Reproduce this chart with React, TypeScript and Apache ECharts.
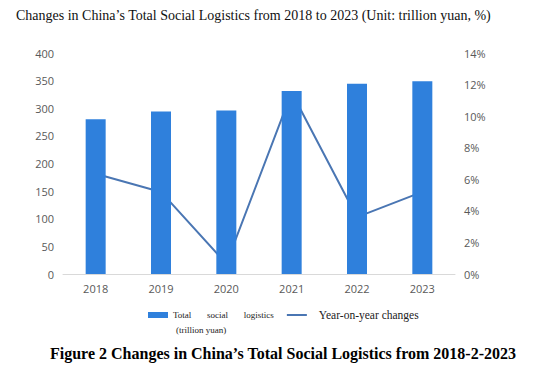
import React, { useEffect, useRef } from "react";
import * as echarts from "echarts";

const years = ["2018", "2019", "2020", "2021", "2022", "2023"];
const totalLogistics = [280, 294, 296, 331, 344.5, 349];
const yoyChange = [6.35, 5.2, 0.65, 11.5, 3.6, 5.2];
const titleText = "Changes in China\u2019s Total Social Logistics from 2018 to 2023 (Unit: trillion yuan, %)";
const captionText = "Figure 2 Changes in China\u2019s Total Social Logistics from 2018-2-2023";
const barName = "Total       social       logistics";
const lineName = "Year-on-year changes";

const SERIF = "'Liberation Serif', 'Times New Roman', serif";

export default function App() {
  const ref = useRef<HTMLDivElement>(null);
  useEffect(() => {
    if (!ref.current) return;
    const chart = echarts.init(ref.current, null, { renderer: "svg" });
    const axisLabel = { color: "#595959", fontSize: 11, fontFamily: "Open Sans" };
    chart.setOption({
      animation: false,
      backgroundColor: "#ffffff",
      title: [
        {
          text: titleText,
          left: 11,
          top: 3,
          textStyle: { fontFamily: SERIF, fontSize: 14, fontWeight: "normal", color: "#111" },
        },
        {
          text: captionText,
          left: 45,
          top: 340,
          textStyle: { fontFamily: SERIF, fontSize: 16, fontWeight: "bold", color: "#000" },
        },
      ],
      grid: { left: 63, right: 83, top: 53, bottom: 100, containLabel: false },
      legend: {
        left: 143,
        top: 304,
        itemGap: 13,
        data: [
          {
            name: barName,
            icon: "rect",
            textStyle: { fontFamily: SERIF, fontSize: 9, color: "#222" },
          },
          {
            name: lineName,
            icon: "path://M0,0 L20,0 L20,2 L0,2 Z",
            textStyle: { fontFamily: SERIF, fontSize: 11.5, color: "#222", padding: [0, 0, 0, 7] },
          },
        ],
        itemWidth: 20,
        itemHeight: 6,
      },
      graphic: [
        {
          type: "text",
          left: 176,
          top: 325,
          style: { text: "(trillion yuan)", fontFamily: SERIF, fontSize: 9, fill: "#222" },
        },
      ],
      xAxis: {
        type: "category",
        data: years,
        axisTick: { show: false },
        axisLine: { lineStyle: { color: "#d9d9d9" } },
        axisLabel: { ...axisLabel, margin: 9 },
      },
      yAxis: [
        {
          type: "value",
          min: 0,
          max: 400,
          interval: 50,
          splitLine: { show: false },
          axisLine: { show: false },
          axisLabel: { ...axisLabel, margin: 9 },
        },
        {
          type: "value",
          min: 0,
          max: 14,
          interval: 2,
          position: "right",
          splitLine: { show: false },
          axisLine: { show: false },
          axisLabel: { ...axisLabel, margin: 9, formatter: "{value}%" },
        },
      ],
      series: [
        {
          name: lineName,
          type: "line",
          yAxisIndex: 1,
          data: yoyChange,
          showSymbol: false,
          symbol: "none",
          z: 1,
          lineStyle: { color: "#4a76b3", width: 2 },
          itemStyle: { color: "#4a76b3" },
        },
        {
          name: barName,
          type: "bar",
          yAxisIndex: 0,
          data: totalLogistics,
          barWidth: 20,
          z: 3,
          itemStyle: { color: "#2f80dc" },
        },
      ],
    });
    return () => chart.dispose();
  }, []);
  return <div ref={ref} style={{ width: 538, height: 374, margin: -8 }} />;
}
